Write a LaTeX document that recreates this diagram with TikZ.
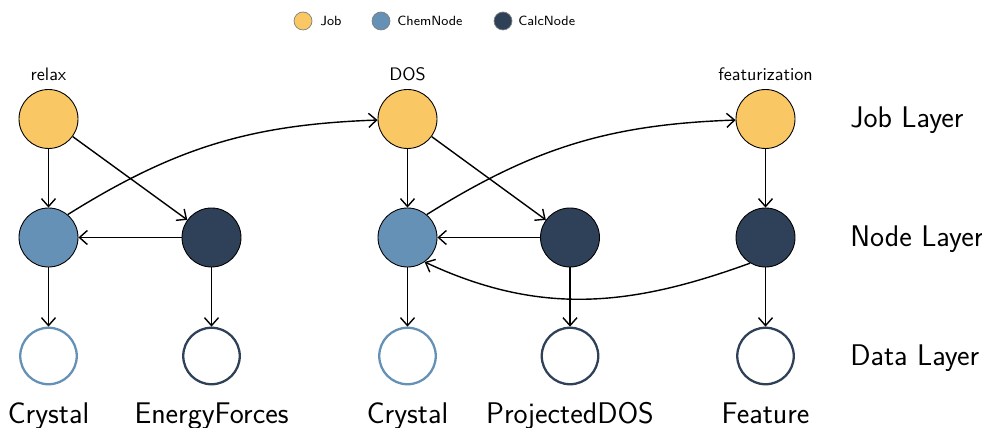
\documentclass[tikz,border=0pt]{standalone}
\usepackage{tikz}
\usetikzlibrary{arrows.meta}

\definecolor{jobyellow}{RGB}{249,200,100}
\definecolor{chemblue}{RGB}{102,145,182}
\definecolor{calcnavy}{RGB}{47,64,89}

\tikzset{
	base/.style={circle, inner sep=0pt, minimum size=1.18cm},
	job/.style={base, draw=black, line width=0.5pt, fill=jobyellow},
	chem/.style={base, draw=black, line width=0.5pt, fill=chemblue},
	calc/.style={base, draw=black, line width=0.5pt, fill=calcnavy},
	chemdata/.style={base, minimum size=1.13cm, draw=chemblue, line width=1.3pt, fill=white},
	calcdata/.style={base, minimum size=1.13cm, draw=calcnavy, line width=1.3pt, fill=white},
	legendmark/.style={circle, inner sep=0pt, minimum size=0.36cm, draw=gray, line width=0.4pt},
	link/.style={-{Straight Barb[length=4.5pt,width=8pt]}, line width=0.8pt},
	bigtext/.style={inner sep=0pt, font=\fontsize{17}{20}\selectfont},
	midtext/.style={inner sep=0pt, font=\fontsize{10.3}{12}\selectfont},
	smalltext/.style={inner sep=0pt, font=\fontsize{7.6}{9}\selectfont},
}

\begin{document}
\begin{tikzpicture}[x=0.02cm, y=-0.02cm]

\def\width{982}
\def\height{428}

\sffamily
\path [use as bounding box] (0,0) rectangle (\width,\height);

% LEGEND
\node [legendmark, fill=jobyellow] (legjob) at (303,21) {};
\node [smalltext, anchor=base west] (legjobtxt) at (320,26) {Job};
\node [legendmark, fill=chemblue] (legchem) at (381,21) {};
\node [smalltext, anchor=base west] (legchemtxt) at (397,26) {ChemNode};
\node [legendmark, fill=calcnavy] (legcalc) at (503,21) {};
\node [smalltext, anchor=base west] (legcalctxt) at (518,26) {CalcNode};

% JOB LAYER
\node [job] (relax) at (48.5,119) {};
\node [job] (dos) at (407.5,119) {};
\node [job] (feat) at (765.5,119) {};
\node [midtext, anchor=base] (relaxtxt) at (48.5,81) {relax};
\node [midtext, anchor=base] (dostxt) at (407.5,81) {DOS};
\node [midtext, anchor=base] (feattxt) at (765.5,81) {featurization};

% NODE LAYER
\node [chem] (chemA) at (48.5,237.5) {};
\node [calc] (calcA) at (211.5,237.5) {};
\node [chem] (chemB) at (407.5,237.5) {};
\node [calc] (calcB) at (570,237.5) {};
\node [calc] (calcC) at (765.5,237.5) {};

% DATA LAYER
\node [chemdata] (crystalA) at (48.5,356) {};
\node [calcdata] (energy) at (211.5,356) {};
\node [chemdata] (crystalB) at (407.5,356) {};
\node [calcdata] (pdos) at (570,356) {};
\node [calcdata] (feature) at (765.5,356) {};

\node [bigtext, anchor=base] (crystalAtxt) at (48.5,423) {Crystal};
\node [bigtext, anchor=base] (energytxt) at (211.5,423) {EnergyForces};
\node [bigtext, anchor=base] (crystalBtxt) at (407.5,423) {Crystal};
\node [bigtext, anchor=base] (pdostxt) at (570,423) {ProjectedDOS};
\node [bigtext, anchor=base] (featuretxt) at (765.5,423) {Feature};

% LAYERS
\node [bigtext, anchor=base west] (joblayer) at (850,128) {Job Layer};
\node [bigtext, anchor=base west] (nodelayer) at (850,246.5) {Node Layer};
\node [bigtext, anchor=base west] (datalayer) at (850,365) {Data Layer};

% LINKS
\draw [link] (relax) -- (chemA);
\draw [link] (relax) -- (calcA);
\draw [link] (calcA) -- (chemA);
\draw [link] (chemA) -- (crystalA);
\draw [link] (calcA) -- (energy);
\draw [link] (chemA.50) to[out=32, in=182] (dos);

\draw [link] (dos) -- (chemB);
\draw [link] (dos) -- (calcB);
\draw [link] (calcB) -- (chemB);
\draw [link] (chemB) -- (crystalB);
\draw [link] (calcB) -- (pdos);
\draw [link] (chemB.50) to[out=32, in=182] (feat);

\draw [link] (feat) -- (calcC);
\draw [link] (calcC) -- (feature);
\draw [link] (calcC.-121) to[out=200, in=-25] (chemB.-55);

\end{tikzpicture}
\end{document}
